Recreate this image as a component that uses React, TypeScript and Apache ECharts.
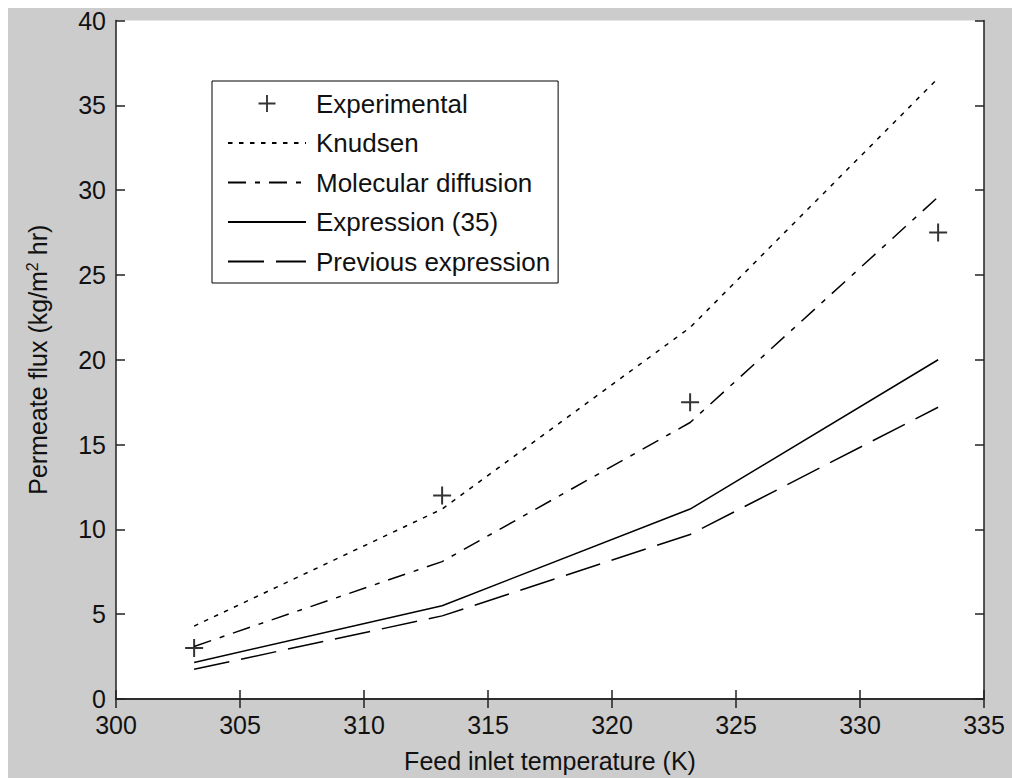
import React, { useEffect, useRef } from "react";
import * as echarts from "echarts";

const temperatures = [303.15, 313.15, 323.15, 333.15];
const experimental = [3.0, 12.0, 17.5, 27.5];
const knudsen = [4.3, 11.2, 21.9, 36.6];
const molecularDiffusion = [3.1, 8.1, 16.3, 29.6];
const expression35 = [2.15, 5.5, 11.2, 20.0];
const previousExpression = [1.75, 4.9, 9.7, 17.2];

const legendNames = [
  "Experimental",
  "Knudsen",
  "Molecular diffusion",
  "Expression (35)",
  "Previous expression",
];

const xTicks = { min: 300, max: 335, interval: 5 };
const yTicks = { min: 0, max: 40, interval: 5 };

const PLUS =
  "path://M8.9,0h2.2v8.9h8.9v2.2h-8.9v8.9h-2.2v-8.9h-8.9v-2.2h8.9z";

const FONT = "'Liberation Sans', Arial, sans-serif";
const AX = "#222";

function pairs(ys: number[]) {
  return temperatures.map((t, i) => [t, ys[i]]);
}

export default function App() {
  const ref = useRef<HTMLDivElement>(null);
  useEffect(() => {
    if (!ref.current) return;
    const chart = echarts.init(ref.current, undefined, { renderer: "svg" });
    const axisCommon = {
      axisLine: { show: true, lineStyle: { color: AX, width: 1.5 } },
      axisTick: { show: true, inside: true, length: 9, lineStyle: { color: AX, width: 1.5 } },
      splitLine: { show: false },
    };
    const lineSeries = (name: string, ys: number[], type: any) => ({
      name,
      type: "line",
      data: pairs(ys),
      showSymbol: false,
      symbol: "none",
      lineStyle: { color: "#000", width: 1.5, type },
      itemStyle: { color: "#000" },
    });
    chart.setOption({
      animation: false,
      backgroundColor: "#CCCCCC",
      textStyle: { fontFamily: FONT },
      grid: {
        left: 108,
        top: 12.5,
        right: 28,
        bottom: 74,
        show: true,
        backgroundColor: "#ffffff",
        borderWidth: 0,
      },
      xAxis: [
        {
          type: "value",
          position: "bottom",
          ...xTicks,
          ...axisCommon,
          axisLabel: { color: "#111", fontSize: 25, fontFamily: FONT, margin: 13 },
          name: "Feed inlet temperature (K)",
          nameLocation: "middle",
          nameGap: 49,
          nameTextStyle: { color: "#111", fontSize: 25, fontFamily: FONT },
        },
        {
          type: "value",
          position: "top",
          ...xTicks,
          ...axisCommon,
          axisLabel: { show: false },
        },
      ],
      yAxis: [
        {
          type: "value",
          position: "left",
          ...yTicks,
          ...axisCommon,
          axisLabel: { color: "#111", fontSize: 25, fontFamily: FONT, margin: 10 },
          name: "Permeate flux (kg/m{sup|2} hr)",
          nameLocation: "middle",
          nameGap: 64,
          nameTextStyle: {
            color: "#111",
            fontSize: 25,
            fontFamily: FONT,
            lineHeight: 28,
            rich: {
              sup: { fontSize: 16, fontFamily: FONT, color: "#111", verticalAlign: "top", lineHeight: 28, padding: [0, 0, 10, 0] },
            },
          },
        },
        {
          type: "value",
          position: "right",
          ...yTicks,
          ...axisCommon,
          axisLabel: { show: false },
        },
      ],
      legend: {
        orient: "vertical",
        left: 204,
        top: 73,
        padding: [9.5, 8, 8.5, 15],
        itemWidth: 78,
        itemHeight: 17,
        itemGap: 13.5,
        backgroundColor: "#ffffff",
        borderColor: "#000",
        borderWidth: 1,
        borderRadius: 0,
        textStyle: {
          color: "#111",
          fontSize: 26,
          fontFamily: FONT,
          lineHeight: 25,
          padding: [0, 0, 0, 5],
        },
        data: legendNames.map((n, i) =>
          i === 0
            ? { name: n }
            : { name: n, itemStyle: { color: "rgba(0,0,0,0)", opacity: 0, borderWidth: 0 } }
        ),
      },
      series: [
        {
          name: legendNames[0],
          type: "scatter",
          data: pairs(experimental),
          symbol: PLUS,
          symbolSize: 18,
          symbolKeepAspect: true,
          itemStyle: { color: "#000" },
          z: 5,
        },
        lineSeries(legendNames[1], knudsen, [4.5, 6.5]),
        lineSeries(legendNames[2], molecularDiffusion, [18, 9, 5, 9]),
        lineSeries(legendNames[3], expression35, "solid"),
        lineSeries(legendNames[4], previousExpression, [36, 12]),
      ],
    });
    return () => chart.dispose();
  }, []);
  return (
    <div
      ref={ref}
      style={{ position: "absolute", left: 8, top: 8, width: 1004, height: 770 }}
    />
  );
}
